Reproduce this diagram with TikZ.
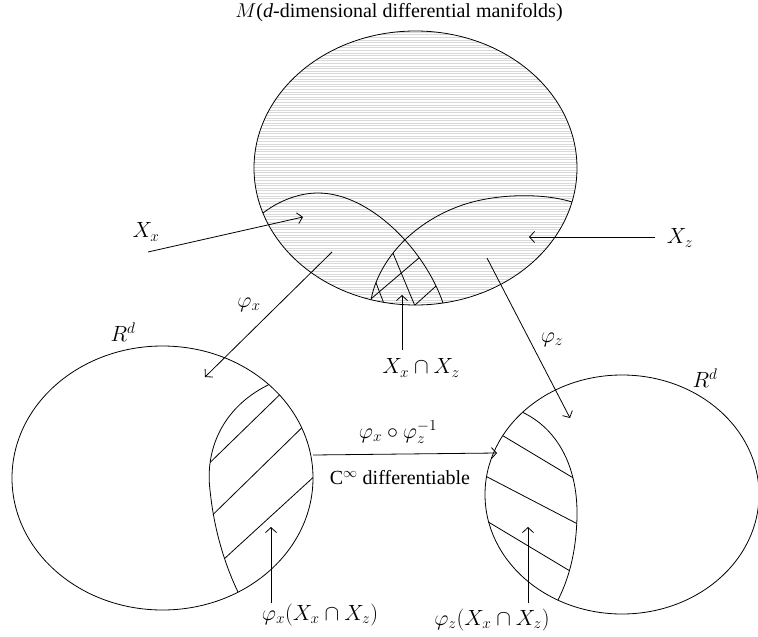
\RequirePackage{fix-cm}
\documentclass[tikz,border=0pt]{standalone}
\usepackage{fontspec}
\setmainfont{Liberation Serif}
\usetikzlibrary{arrows.meta}
\begin{document}
\begin{tikzpicture}[x=1pt,y=-1pt,line width=0.8pt,
  arr/.style={-{Straight Barb[length=5pt,width=11pt]}},
  lbl/.style={inner sep=0pt,font=\fontsize{20}{24}\selectfont},
  mlbl/.style={inner sep=0pt,font=\fontsize{22}{26}\selectfont},
  grayline/.style={line width=0.45pt,black!15}]
\useasboundingbox (0,0) rectangle (758,637);
\clip (0,0) rectangle (758,637);

\def\xxcurve{(255,219) -- (263,213) .. controls (280,200) and (300,193) .. (318,193) .. controls (370,193) and (425,250) .. (443,303) -- (446,312)}
\def\xzcurve{(369,310) -- (371,300) .. controls (378,262) and (410,225) .. (457,207) .. controls (490,194) and (540,192) .. (572,202) -- (582,205)}
\def\lcurve{(276,381) -- (268,385) .. controls (222,408) and (205,450) .. (210,490) .. controls (214,530) and (225,565) .. (238,592) -- (241,598)}
\def\rcurve{(515,408) -- (522,412) .. controls (560,430) and (578,470) .. (577,517) .. controls (576,555) and (568,580) .. (558,600) -- (555,606)}

% ---------- top manifold ----------
\coordinate (Mc) at (415.5,168);
\begin{scope}
  \clip (Mc) ellipse [x radius=161.5, y radius=137];
  \foreach \y in {32,34.6,...,306} \draw[grayline] (250,\y) -- (580,\y);
  \draw \xxcurve;
  \draw \xzcurve;
  \begin{scope}
    \clip \xxcurve -- (446,330) -- (240,330) -- (240,219) -- cycle;
    \clip \xzcurve -- (600,205) -- (600,330) -- (369,330) -- cycle;
    \draw (380,222) -- (425,330);
    \draw (365,254) -- (391,322);
    \draw (355,312.5) -- (440,240);
    \draw (400,318.5) -- (450,273.5);
  \end{scope}
\end{scope}
\draw (Mc) ellipse [x radius=161.5, y radius=137];

% ---------- left chart ----------
\coordinate (Lc) at (162.5,478);
\begin{scope}
  \clip (Lc) ellipse [x radius=150.5, y radius=132];
  \draw \lcurve;
  \begin{scope}
    \clip \lcurve -- (241,620) -- (330,620) -- (330,370) -- (276,370) -- cycle;
    \draw (190,482) -- (300,375);
    \draw (190,537) -- (320,410);
    \draw (200,581) -- (330,462);
  \end{scope}
\end{scope}
\draw (Lc) ellipse [x radius=150.5, y radius=132];

% ---------- right chart ----------
\coordinate (Rc) at (622,494.5);
\begin{scope}
  \clip (Rc) ellipse [x radius=137, y radius=119.5];
  \draw \rcurve;
  \begin{scope}
    \clip \rcurve -- (555,620) -- (470,620) -- (470,400) -- (515,400) -- cycle;
    \draw (480,422) -- (590,488);
    \draw (470,468) -- (595,533);
    \draw (470,511) -- (590,583);
  \end{scope}
\end{scope}
\draw (Rc) ellipse [x radius=137, y radius=119.5];

% ---------- labels ----------
\node[lbl] (title) at (399,13) {$M$(\textit{d}-dimensional differential manifolds)};
\node[mlbl] (lXx) at (146,232) {$X_x$};
\node[mlbl] (lXz) at (680,238) {$X_z$};
\node[mlbl] (lphx) at (249,305) {$\varphi_x$};
\node[mlbl] (lphz) at (552,340) {$\varphi_z$};
\node[mlbl] (lcap) at (421,368) {$X_x\cap X_z$};
\node[mlbl] (lRl) at (123,332) {$R^d$};
\node[mlbl] (lRr) at (705,378) {$R^d$};
\node[mlbl] (lcomp) at (398,432) {$\varphi_x\circ\varphi_z^{-1}$};
\node[lbl] (ldiff) at (400,478) {C$^\infty$ differentiable};
\node[mlbl] (limx) at (320,615) {$\varphi_x(X_x\cap X_z)$};
\node[mlbl] (limz) at (492,620) {$\varphi_z(X_x\cap X_z)$};

% ---------- arrow end points ----------
\coordinate (aXxs) at (148,252);  \coordinate (aXxe) at (303,217);
\coordinate (aXzs) at (655,237);  \coordinate (aXze) at (529,237);
\coordinate (aphxs) at (332,252); \coordinate (aphxe) at (205,377);
\coordinate (aphzs) at (487,258); \coordinate (aphze) at (570,418);
\coordinate (acaps) at (402,350); \coordinate (acape) at (402,295);
\coordinate (acomps) at (313,455); \coordinate (acompe) at (497,453);
\coordinate (aimxs) at (271,603); \coordinate (aimxe) at (271,527);
\coordinate (aimzs) at (528,603); \coordinate (aimze) at (528,527);

\draw[arr] (aXxs) -- (aXxe);
\draw[arr] (aXzs) -- (aXze);
\draw[arr] (aphxs) -- (aphxe);
\draw[arr] (aphzs) -- (aphze);
\draw[arr] (acaps) -- (acape);
\draw[arr] (acomps) -- (acompe);
\draw[arr] (aimxs) -- (aimxe);
\draw[arr] (aimzs) -- (aimze);
\end{tikzpicture}
\end{document}
